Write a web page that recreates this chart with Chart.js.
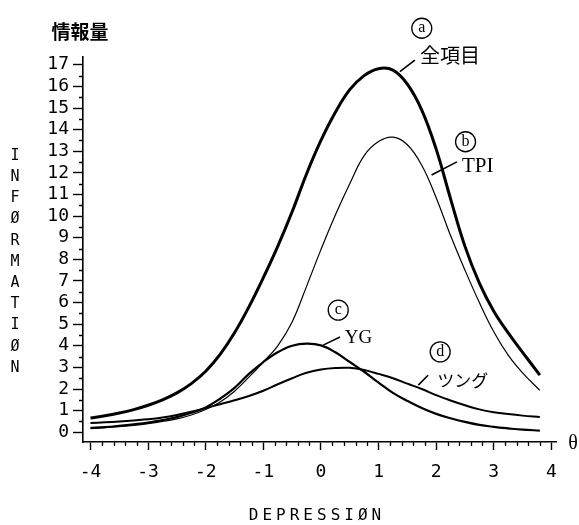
<!DOCTYPE html>
<html>
<head>
<meta charset="utf-8">
<script src="https://cdn.jsdelivr.net/npm/chart.js@4/dist/chart.umd.min.js"></script>
<style>
  html, body { margin: 0; padding: 0; background: #fff; }
  #wrap { width: 579px; height: 525px; position: relative; }
</style>
</head>
<body>
<div id="wrap"><canvas id="chart"></canvas></div>
<script>
// theta (depression level) and information values
const theta    = [-4, -3.75, -3.5, -3.25, -3, -2.75, -2.5, -2.25, -2, -1.75, -1.5, -1.25, -1, -0.75, -0.5, -0.25,
                  0, 0.25, 0.5, 0.75, 1, 1.25, 1.5, 1.75, 2, 2.25, 2.5, 2.75, 3, 3.25, 3.5, 3.8];
const allItems = [0.66, 0.76, 0.89, 1.05, 1.25, 1.5, 1.82, 2.25, 2.82, 3.6, 4.6, 5.8, 7.15, 8.6, 10.2, 11.95,
                  13.5, 14.8, 15.85, 16.5, 16.82, 16.75, 16.1, 14.9, 13.1, 10.8, 8.6, 6.9, 5.6, 4.6, 3.7, 2.64];
const tpi      = [0.17, 0.21, 0.26, 0.32, 0.4, 0.5, 0.62, 0.8, 1.05, 1.4, 1.9, 2.55, 3.25, 4.0, 5.1, 6.75,
                  8.45, 10.05, 11.5, 12.8, 13.45, 13.65, 13.3, 12.35, 10.85, 9.1, 7.5, 6.0, 4.65, 3.57, 2.75, 1.94];
const yg       = [0.2, 0.24, 0.3, 0.37, 0.45, 0.56, 0.7, 0.9, 1.15, 1.55, 2.05, 2.7, 3.25, 3.7, 4.0, 4.1,
                  4.02, 3.7, 3.25, 2.8, 2.3, 1.82, 1.45, 1.12, 0.85, 0.65, 0.48, 0.34, 0.25, 0.18, 0.12, 0.08];
const tsung    = [0.43, 0.46, 0.5, 0.55, 0.6, 0.68, 0.8, 0.95, 1.12, 1.3, 1.48, 1.68, 1.92, 2.22, 2.5, 2.75,
                  2.9, 2.97, 2.98, 2.88, 2.7, 2.5, 2.25, 2.0, 1.72, 1.47, 1.25, 1.06, 0.93, 0.84, 0.77, 0.71];

const xTicks = [-4, -3, -2, -1, 0, 1, 2, 3, 4];
const yTicks = [0, 1, 2, 3, 4, 5, 6, 7, 8, 9, 10, 11, 12, 13, 14, 15, 16, 17];

// curve labels: circled letter, name, leader line (all in data units)
const notes = [
  { mark: 'a', mx: 1.75, my: 18.69, name: '全項目', nx: 2.24, ny: 17.45, l: [1.37, 16.68, 1.63, 17.22], font: '20px "Noto Sans CJK JP"' },
  { mark: 'b', mx: 2.51, my: 13.44, name: 'TPI', nx: 2.72, ny: 12.28, l: [1.92, 11.9, 2.36, 12.51], font: '21px "Liberation Serif"' },
  { mark: 'c', mx: 0.30, my: 5.65, name: 'YG', nx: 0.65, ny: 4.38, l: [0.04, 4.03, 0.33, 4.41], font: '19px "Liberation Serif"' },
  { mark: 'd', mx: 2.07, my: 3.72, name: 'ツング', nx: 2.46, ny: 2.41, l: [1.69, 2.18, 1.86, 2.64], font: '17px "Noto Sans CJK JP"' }
];

const pts = vals => theta.map((t, i) => ({ x: t, y: vals[i] }));
const monoFont = { family: '"DejaVu Sans Mono", monospace', size: 18 };

const extras = {
  id: 'extras',
  afterDraw(chart) {
    const ctx = chart.ctx, xs = chart.scales.x, ys = chart.scales.y, area = chart.chartArea;
    ctx.save();
    ctx.strokeStyle = '#000';
    ctx.fillStyle = '#000';
    ctx.lineWidth = 1.3;
    // minor ticks
    ctx.beginPath();
    for (let k = -20; k <= 20; k++) {
      if (k % 5 === 0) continue;
      const px = Math.round(xs.getPixelForValue(k / 5)) + 0.5;
      ctx.moveTo(px, area.bottom);
      ctx.lineTo(px, area.bottom + 4);
    }
    for (let v = 0.5; v < 17; v += 1) {
      const py = Math.round(ys.getPixelForValue(v)) + 0.5;
      ctx.moveTo(area.left - 4, py);
      ctx.lineTo(area.left, py);
    }
    ctx.stroke();

    // curve labels
    notes.forEach(n => {
      const cx = xs.getPixelForValue(n.mx), cy = ys.getPixelForValue(n.my);
      ctx.lineWidth = 1.3;
      ctx.beginPath();
      ctx.arc(cx, cy, 10, 0, Math.PI * 2);
      ctx.stroke();
      ctx.font = '16px "Liberation Serif"';
      ctx.textAlign = 'center';
      ctx.textBaseline = 'middle';
      ctx.fillText(n.mark, cx, cy);
      ctx.font = n.font;
      ctx.fillText(n.name, xs.getPixelForValue(n.nx), ys.getPixelForValue(n.ny));
      ctx.lineWidth = 1.6;
      ctx.beginPath();
      ctx.moveTo(xs.getPixelForValue(n.l[0]), ys.getPixelForValue(n.l[1]));
      ctx.lineTo(xs.getPixelForValue(n.l[2]), ys.getPixelForValue(n.l[3]));
      ctx.stroke();
    });

    // axis titles
    ctx.textAlign = 'center';
    ctx.textBaseline = 'middle';
    ctx.font = 'bold 19px "Noto Sans CJK JP"';
    ctx.fillText('情報量', 80, 32);
    ctx.font = '15px "DejaVu Sans Mono"';
    'INFØRMATIØN'.split('').forEach((ch, i) => ctx.fillText(ch, 15, 156 + i * 21.2));
    ctx.font = '16px "DejaVu Sans Mono"';
    ctx.letterSpacing = '4px';
    ctx.fillText('DEPRESSIØN', 317, 516);
    ctx.letterSpacing = '0px';
    ctx.font = '20px "Liberation Serif"';
    ctx.fillText('θ', area.right + 17, area.bottom + 2);
    ctx.restore();
  }
};

new Chart(document.getElementById('chart'), {
  type: 'line',
  data: {
    datasets: [
      { label: '全項目', data: pts(allItems), borderColor: '#000', borderWidth: 3 },
      { label: 'TPI', data: pts(tpi), borderColor: '#000', borderWidth: 1.2 },
      { label: 'YG', data: pts(yg), borderColor: '#000', borderWidth: 2.2 },
      { label: 'ツング', data: pts(tsung), borderColor: '#000', borderWidth: 2 }
    ]
  },
  options: {
    responsive: true,
    maintainAspectRatio: false,
    animation: false,
    devicePixelRatio: 1,
    layout: { padding: { top: 57, right: 23, left: 0, bottom: 0 } },
    elements: {
      point: { radius: 0 },
      line: { tension: 0.4, fill: false }
    },
    plugins: { legend: { display: false }, tooltip: { enabled: false } },
    scales: {
      x: {
        type: 'linear',
        min: -4.13,
        max: 4.08,
        afterBuildTicks: s => { s.ticks = xTicks.map(v => ({ value: v })); },
        afterFit: s => { s.height = 83; },
        ticks: { color: '#000', font: monoFont, padding: 12, maxRotation: 0, autoSkip: false,
                 callback: v => String(v) },
        grid: { drawOnChartArea: false, tickLength: 8, tickColor: '#000', tickWidth: 1.4 },
        border: { color: '#000', width: 1.6 }
      },
      y: {
        min: -0.45,
        max: 17.36,
        afterBuildTicks: s => { s.ticks = yTicks.map(v => ({ value: v })); },
        afterFit: s => { s.width = 83; },
        ticks: { color: '#000', font: monoFont, padding: 4, autoSkip: false,
                 callback: v => String(v) },
        grid: { drawOnChartArea: false, tickLength: 10, tickColor: '#000', tickWidth: 1.4 },
        border: { color: '#000', width: 1.6 }
      }
    }
  },
  plugins: [extras]
});
</script>
</body>
</html>
